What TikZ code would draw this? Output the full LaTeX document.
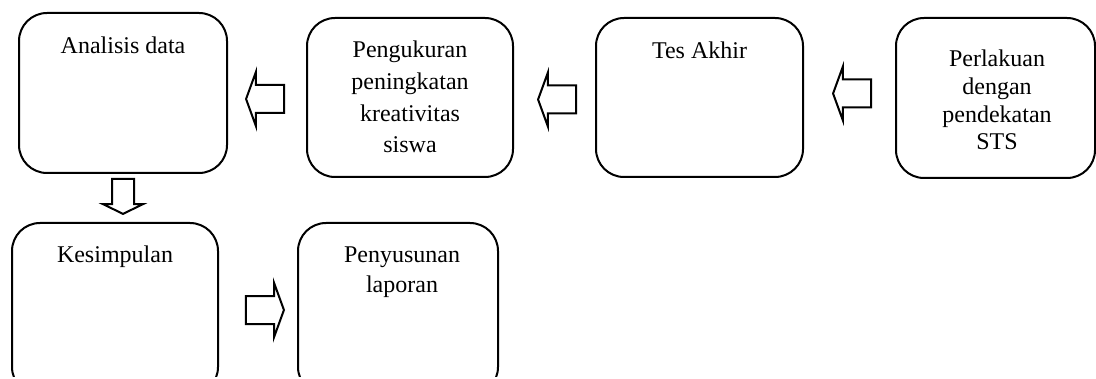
\documentclass[tikz,border=0pt]{standalone}
\usepackage{fontspec}
\setmainfont{Liberation Serif}
\usetikzlibrary{shapes.arrows}

\begin{document}
\begin{tikzpicture}[x=0.5pt, y=-0.5pt,
  box/.style={draw, rounded corners=14pt, line width=1pt, inner sep=0pt},
  txt/.style={align=center, anchor=base, inner sep=0pt,
    font=\fontsize{12}{#1}\selectfont},
  txt/.default=14.5pt,
  blk/.style={draw, shape=single arrow, line width=1pt, inner sep=6.5pt,
    minimum width=26pt, minimum height=19pt,
    single arrow head extend=6.5pt, single arrow tip angle=140, anchor=tip}]
  \useasboundingbox (0,0) rectangle (1096,379);
  \clip (0,0) rectangle (1096,376);

  % upper row
  \draw (123,93) node[box, minimum width=104pt, minimum height=80pt] (ad) {};
  \draw (410,97.5) node[box, minimum width=103pt, minimum height=79.5pt] (pk) {};
  \draw (699.5,97.5) node[box, minimum width=103.5pt, minimum height=79.5pt] (ta) {};
  \draw (995.5,98) node[box, minimum width=99.5pt, minimum height=80pt] (pl) {};

  % base of a multi-line text is its last line
  \draw (123,54) node[txt] (ad-t) {Analisis data};
  \draw (410,153) node[txt=15.85pt] (pk-t) {Pengukuran\\peningkatan\\kreativitas\\siswa};
  \draw (699.5,59) node[txt] (ta-t) {Tes Akhir};
  \draw (997,150) node[txt=13.85pt] (pl-t) {Perlakuan\\dengan\\pendekatan\\STS};

  \draw (245,99) node[blk, shape border rotate=180] (a1) {};
  \draw (537,99.5) node[blk, shape border rotate=180] (a2) {};
  \draw (832,93.5) node[blk, shape border rotate=180] (a3) {};

  % lower row
  \draw (123,215) node[blk, shape border rotate=270, inner sep=5pt,
    minimum width=19pt, minimum height=17.5pt,
    single arrow head extend=4.5pt, single arrow tip angle=128] (a4) {};

  \draw (115,309) node[box, minimum width=103pt, minimum height=86pt] (ks) {};
  \draw (398,309) node[box, minimum width=100pt, minimum height=86pt] (ps) {};

  \draw (115,263) node[txt] (ks-t) {Kesimpulan};
  \draw (402,292) node[txt] (ps-t) {Penyusunan\\laporan};

  \draw (285,310) node[blk] (a5) {};

\end{tikzpicture}
\end{document}
